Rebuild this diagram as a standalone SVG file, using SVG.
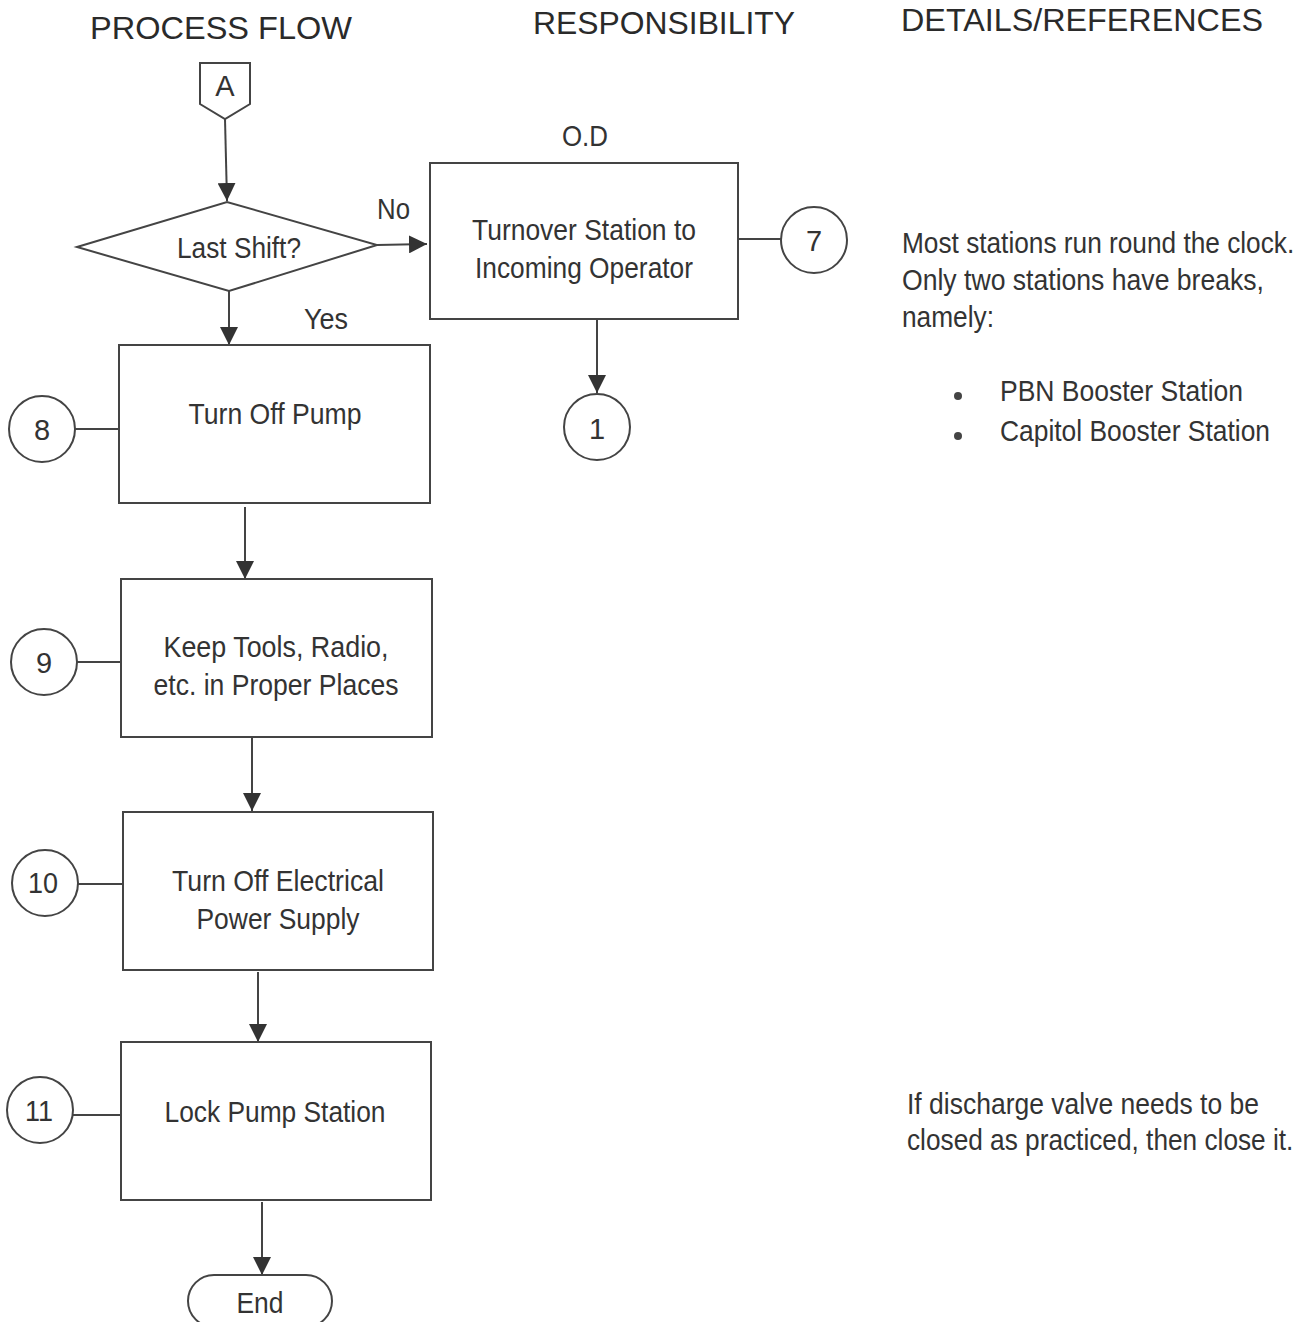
<svg xmlns="http://www.w3.org/2000/svg" width="1314" height="1322" viewBox="0 0 1314 1322">
<style>
text{font-family:"Liberation Sans",Arial,sans-serif;fill:#333;font-size:29px}
.c{text-anchor:middle}
.h{font-size:31px;fill:#2a2a2a}
.shape{fill:#fff;stroke:#444;stroke-width:2}
.ln{stroke:#444;stroke-width:2;fill:none}
</style>
<defs>
<marker id="ah" viewBox="0 0 18 18" refX="18" refY="9" markerWidth="18" markerHeight="18" markerUnits="userSpaceOnUse" orient="auto">
<path d="M0,0 L18,9 L0,18 Z" fill="#333"/>
</marker>
</defs>
<rect width="1314" height="1322" fill="#fff"/>
<g id="headers">
<text class="h" x="90" y="39" textLength="262" lengthAdjust="spacingAndGlyphs">PROCESS FLOW</text>
<text class="h" x="533" y="34" textLength="262" lengthAdjust="spacingAndGlyphs">RESPONSIBILITY</text>
<text class="h" x="901" y="31" textLength="362" lengthAdjust="spacingAndGlyphs">DETAILS/REFERENCES</text>
</g>
<g id="connectors">
<line class="ln" x1="225" y1="119" x2="227" y2="201" marker-end="url(#ah)"/>
<line class="ln" x1="377" y1="245" x2="427" y2="244" marker-end="url(#ah)"/>
<line class="ln" x1="229" y1="291" x2="229" y2="345" marker-end="url(#ah)"/>
<line class="ln" x1="738" y1="239" x2="781" y2="239"/>
<line class="ln" x1="597" y1="319" x2="597" y2="393" marker-end="url(#ah)"/>
<line class="ln" x1="75" y1="429" x2="119" y2="429"/>
<line class="ln" x1="245" y1="507" x2="245" y2="579" marker-end="url(#ah)"/>
<line class="ln" x1="77" y1="662" x2="121" y2="662"/>
<line class="ln" x1="252" y1="738" x2="252" y2="811" marker-end="url(#ah)"/>
<line class="ln" x1="78" y1="884" x2="123" y2="884"/>
<line class="ln" x1="258" y1="972" x2="258" y2="1042" marker-end="url(#ah)"/>
<line class="ln" x1="73" y1="1115" x2="125" y2="1115"/>
<line class="ln" x1="262" y1="1202" x2="262" y2="1275" marker-end="url(#ah)"/>
</g>
<g id="nodeA">
<path class="shape" d="M200,63 L250,63 L250,104 L225,119 L200,104 Z"/>
<text class="c" x="225" y="96">A</text>
</g>
<g id="decision">
<path class="shape" d="M77,247 L227,202 L377,245 L229,291 Z"/>
<text class="c" x="239" y="258" textLength="124" lengthAdjust="spacingAndGlyphs">Last Shift?</text>
<text x="377" y="219" textLength="33" lengthAdjust="spacingAndGlyphs">No</text>
<text x="304" y="329" textLength="44" lengthAdjust="spacingAndGlyphs">Yes</text>
</g>
<g id="turnover">
<text class="c" x="585" y="146" textLength="46" lengthAdjust="spacingAndGlyphs">O.D</text>
<rect class="shape" x="430" y="163" width="308" height="156"/>
<text class="c" x="584" y="240" textLength="224" lengthAdjust="spacingAndGlyphs">Turnover Station to</text>
<text class="c" x="584" y="278" textLength="218" lengthAdjust="spacingAndGlyphs">Incoming Operator</text>
</g>
<g id="c7"><circle class="shape" cx="814" cy="240" r="33"/><text class="c" x="814" y="251">7</text></g>
<g id="c1"><circle class="shape" cx="597" cy="427" r="33"/><text class="c" x="597" y="439">1</text></g>
<g id="step8">
<rect class="shape" x="119" y="345" width="311" height="158"/>
<text class="c" x="275" y="424" textLength="173" lengthAdjust="spacingAndGlyphs">Turn Off Pump</text>
</g>
<g id="c8"><circle class="shape" cx="42" cy="429" r="33"/><text class="c" x="42" y="440">8</text></g>
<g id="step9">
<rect class="shape" x="121" y="579" width="311" height="158"/>
<text class="c" x="276" y="657" textLength="225" lengthAdjust="spacingAndGlyphs">Keep Tools, Radio,</text>
<text class="c" x="276" y="695" textLength="245" lengthAdjust="spacingAndGlyphs">etc. in Proper Places</text>
</g>
<g id="c9"><circle class="shape" cx="44" cy="662" r="33"/><text class="c" x="44" y="673">9</text></g>
<g id="step10">
<rect class="shape" x="123" y="812" width="310" height="158"/>
<text class="c" x="278" y="891" textLength="212" lengthAdjust="spacingAndGlyphs">Turn Off Electrical</text>
<text class="c" x="278" y="929" textLength="163" lengthAdjust="spacingAndGlyphs">Power Supply</text>
</g>
<g id="c10"><circle class="shape" cx="45" cy="883" r="33"/><text class="c" x="43" y="893" textLength="30" lengthAdjust="spacingAndGlyphs">10</text></g>
<g id="step11">
<rect class="shape" x="121" y="1042" width="310" height="158"/>
<text class="c" x="275" y="1122" textLength="221" lengthAdjust="spacingAndGlyphs">Lock Pump Station</text>
</g>
<g id="c11"><circle class="shape" cx="40" cy="1110" r="33"/><text class="c" x="39" y="1121" textLength="28" lengthAdjust="spacingAndGlyphs">11</text></g>
<g id="end">
<rect class="shape" x="188" y="1275" width="144" height="52" rx="26"/>
<text class="c" x="260" y="1313" textLength="47" lengthAdjust="spacingAndGlyphs">End</text>
</g>
<g id="details">
<text transform="translate(902,253) scale(0.905,1)" x="0" y="0">Most stations run round the clock.</text>
<text x="902" y="290" textLength="362" lengthAdjust="spacingAndGlyphs">Only two stations have breaks,</text>
<text x="902" y="327" textLength="92" lengthAdjust="spacingAndGlyphs">namely:</text>
<circle cx="958" cy="396" r="4" fill="#444"/>
<text x="1000" y="401" textLength="243" lengthAdjust="spacingAndGlyphs">PBN Booster Station</text>
<circle cx="958" cy="436" r="4" fill="#444"/>
<text x="1000" y="441" textLength="270" lengthAdjust="spacingAndGlyphs">Capitol Booster Station</text>
<text x="907" y="1114" textLength="352" lengthAdjust="spacingAndGlyphs">If discharge valve needs to be</text>
<text transform="translate(907,1150) scale(0.905,1)" x="0" y="0">closed as practiced, then close it.</text>
</g>
</svg>
